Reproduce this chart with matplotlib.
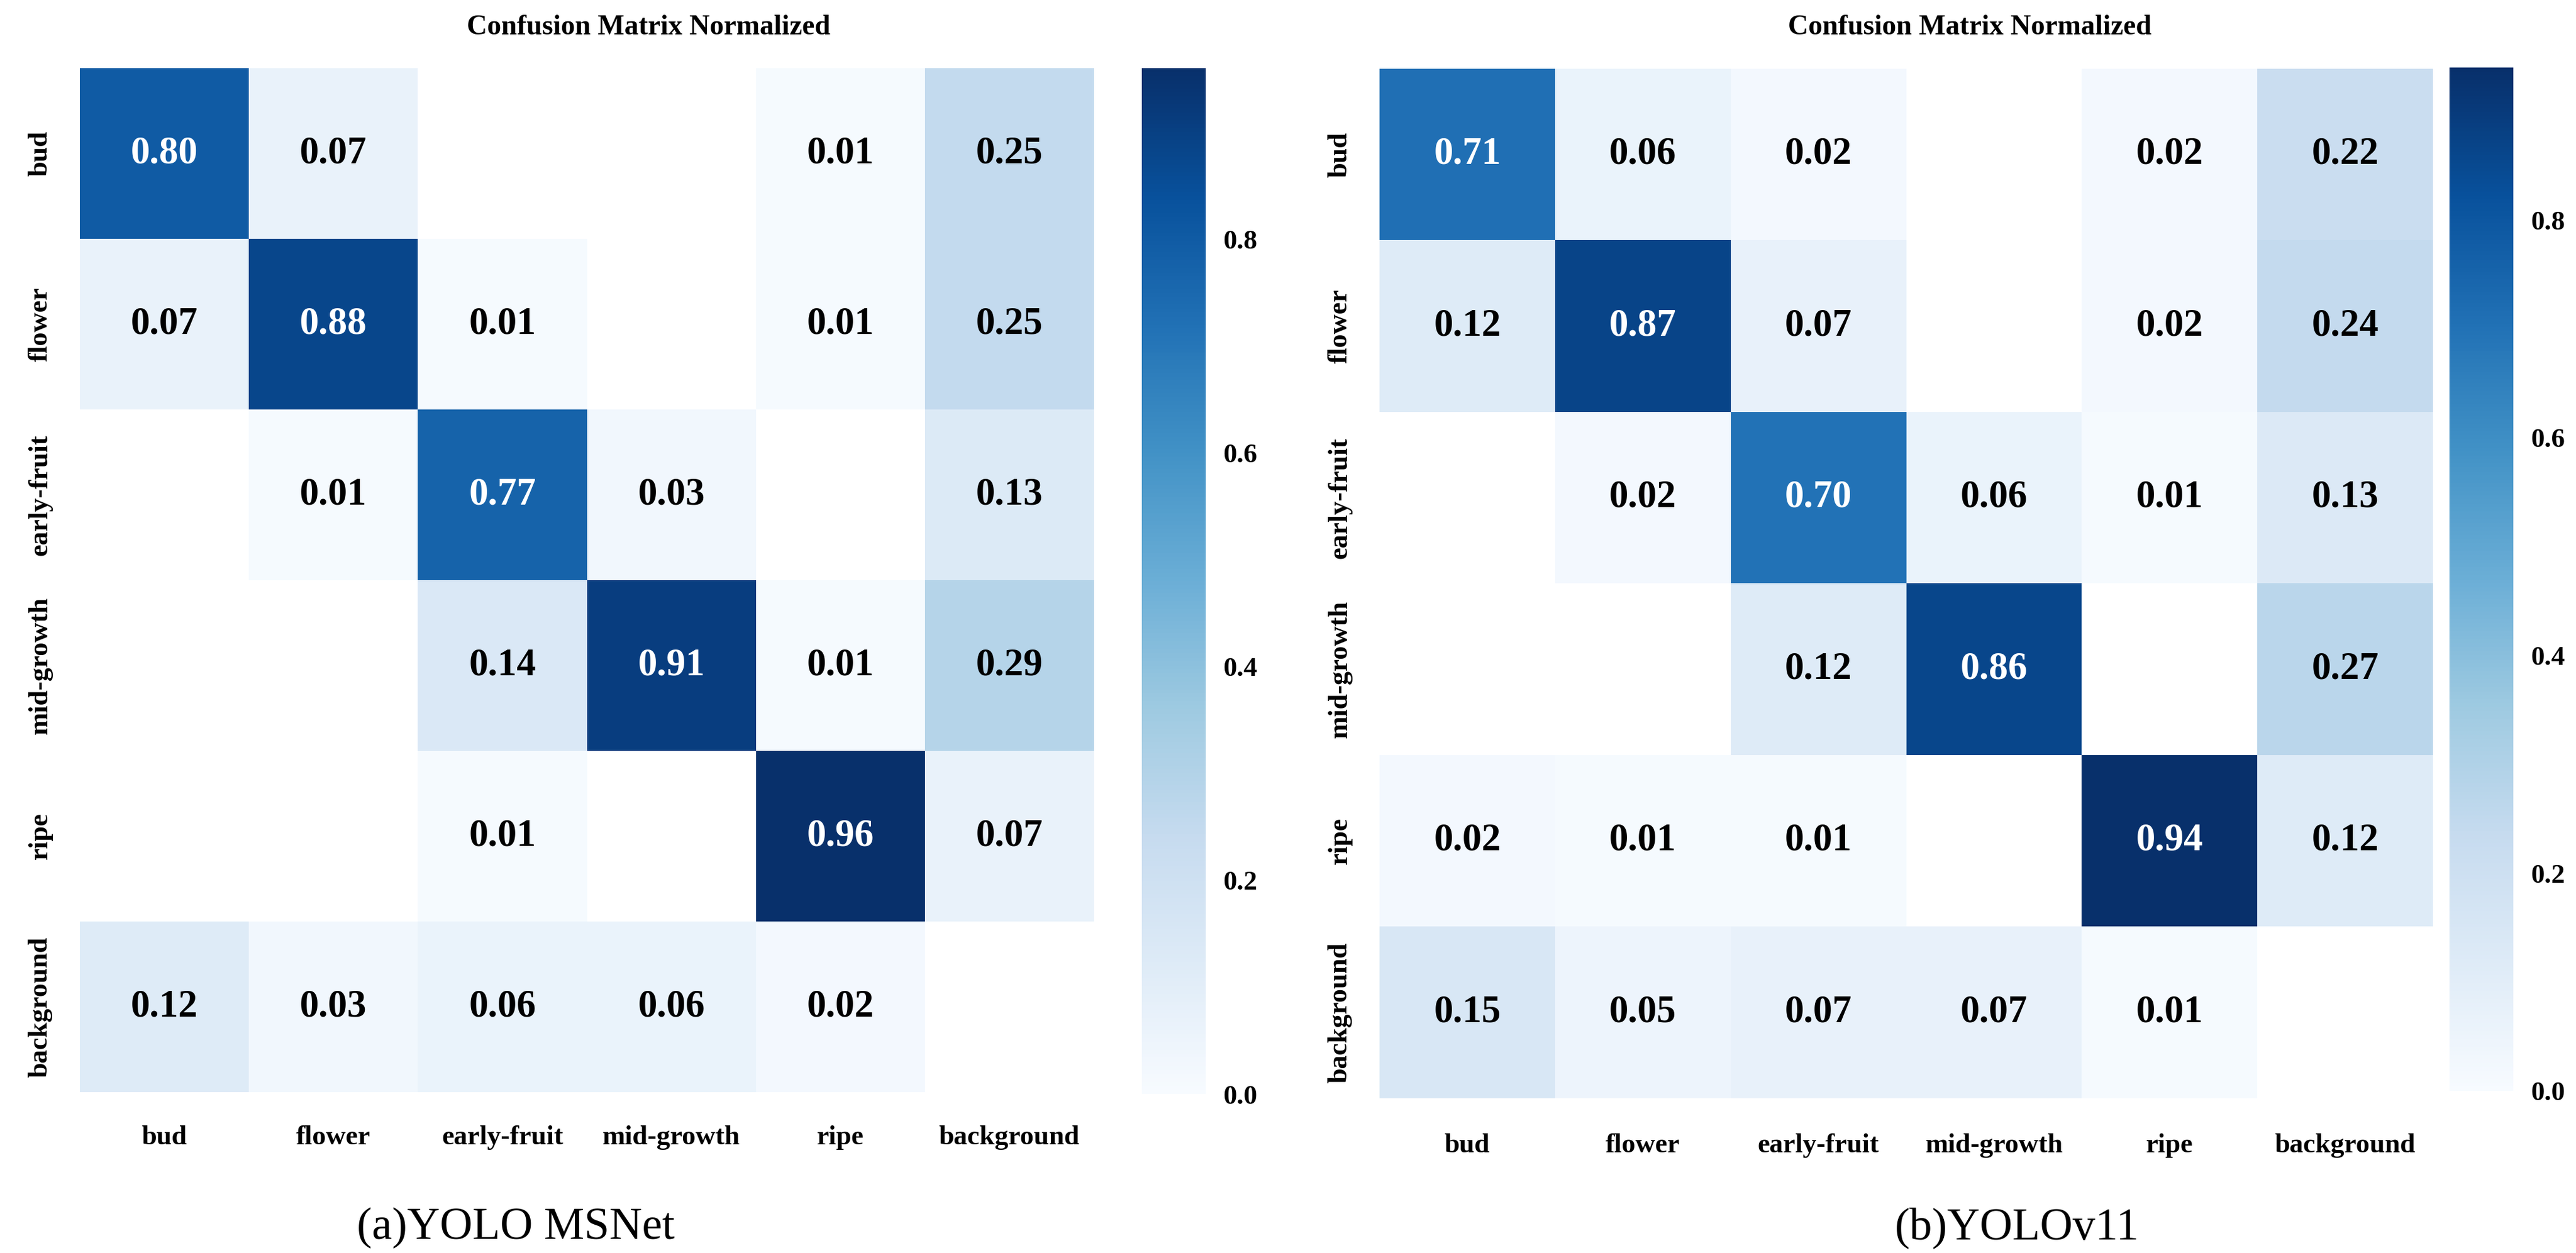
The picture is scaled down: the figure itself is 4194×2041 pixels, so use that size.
import numpy as np
import matplotlib
matplotlib.use("Agg")
import matplotlib.pyplot as plt
import matplotlib.colors as mcolors
import seaborn as sns

nan = np.nan
classes = ["bud", "flower", "early-fruit", "mid-growth", "ripe", "background"]

# rows = predicted, columns = true (column-normalised)
msnet = [
    [0.80, 0.07, nan,  nan,  0.01, 0.25],
    [0.07, 0.88, 0.01, nan,  0.01, 0.25],
    [nan,  0.01, 0.77, 0.03, nan,  0.13],
    [nan,  nan,  0.14, 0.91, 0.01, 0.29],
    [nan,  nan,  0.01, nan,  0.96, 0.07],
    [0.12, 0.03, 0.06, 0.06, 0.02, nan],
]
yolov11 = [
    [0.71, 0.06, 0.02, nan,  0.02, 0.22],
    [0.12, 0.87, 0.07, nan,  0.02, 0.24],
    [nan,  0.02, 0.70, 0.06, 0.01, 0.13],
    [nan,  nan,  0.12, 0.86, nan,  0.27],
    [0.02, 0.01, 0.01, nan,  0.94, 0.12],
    [0.15, 0.05, 0.07, 0.07, 0.01, nan],
]
titles = ["Confusion Matrix Normalized", "Confusion Matrix Normalized"]
captions = ["(a)YOLO MSNet", "(b)YOLOv11"]

W, H, DPI = 4194, 2041, 100
plt.rcParams["font.family"] = ["Liberation Serif", "DejaVu Serif"]
fig = plt.figure(figsize=(W / DPI, H / DPI), dpi=DPI)
fig.patch.set_facecolor("white")


def px_axes(x0, y0, x1, y1):
    return fig.add_axes([x0 / W, 1 - y1 / H, (x1 - x0) / W, (y1 - y0) / H])


layout = [
    dict(heat=(130, 111, 1781, 1779), cbar=(1859, 111, 1963, 1782),
         title_x=1056, cap_x=840, xpad=39),
    dict(heat=(2246, 112, 3961, 1789), cbar=(3988, 110, 4092, 1777),
         title_x=3207, cap_x=3284, xpad=41),
]

for data, lay, title, cap in zip([msnet, yolov11], layout, titles, captions):
    ax = px_axes(*lay["heat"])
    cax = px_axes(*lay["cbar"])
    arr = np.array(data, dtype=float)
    sns.heatmap(arr, ax=ax, cbar_ax=cax, annot=True, fmt=".2f", cmap="Blues",
                vmin=0.0, square=False,
                annot_kws={"size": 45, "weight": "bold"},
                xticklabels=classes, yticklabels=classes)
    for t in ax.texts:
        if mcolors.to_rgb(t.get_color()) != (1.0, 1.0, 1.0):
            t.set_color("black")
    ax.set_facecolor("white")
    ax.tick_params(axis="both", length=0)
    ax.tick_params(axis="x", pad=lay["xpad"])
    ax.tick_params(axis="y", pad=32)
    for lab in ax.get_xticklabels():
        lab.set_fontsize(32)
        lab.set_fontweight("bold")
        lab.set_rotation(0)
    for lab in ax.get_yticklabels():
        lab.set_fontsize(32)
        lab.set_fontweight("bold")
        lab.set_rotation(90)
        lab.set_va("center")
    cax.tick_params(length=0, labelsize=32, pad=20)
    for lab in cax.get_yticklabels():
        lab.set_fontweight("bold")
    for s in cax.spines.values():
        s.set_visible(False)

    fig.text(lay["title_x"] / W, 1 - 45 / H, title, ha="center", va="center",
             fontsize=33, fontweight="bold")
    fig.text(lay["cap_x"] / W, 1 - 2000 / H, cap, ha="center", va="center",
             fontsize=53)

fig.savefig("out.png", dpi=DPI, facecolor="white")
